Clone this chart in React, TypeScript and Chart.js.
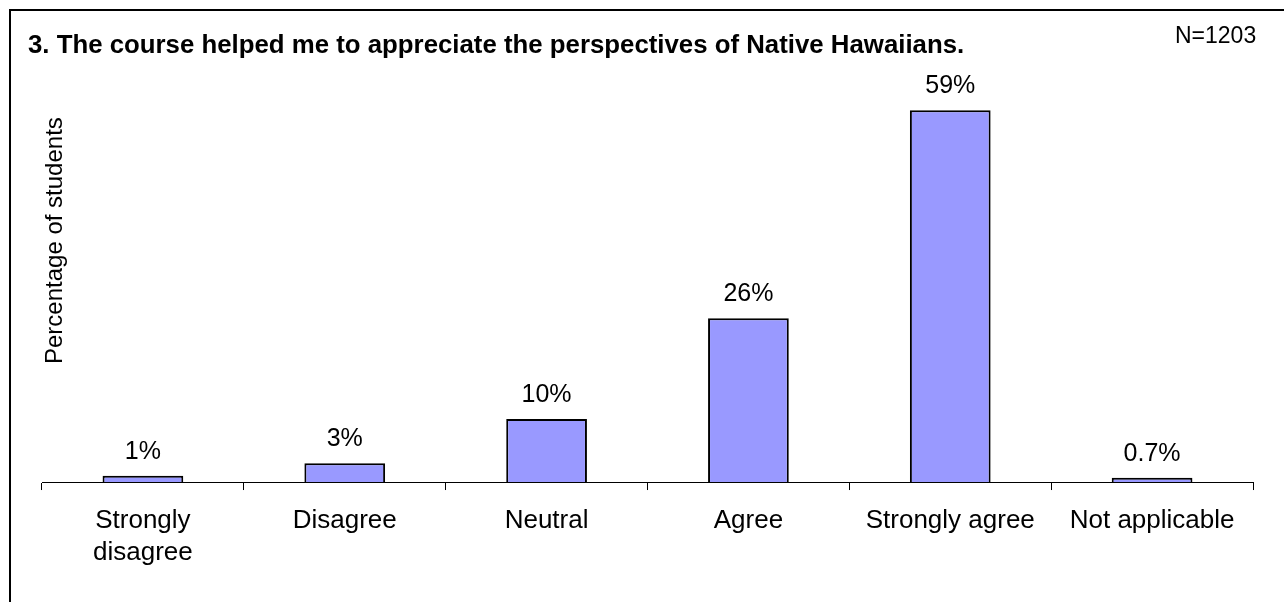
import React, { useEffect, useRef } from "react";
import { Chart, registerables } from "chart.js";

Chart.register(...registerables);

const categories: (string | string[])[] = [
  ["Strongly", "disagree"],
  "Disagree",
  "Neutral",
  "Agree",
  "Strongly agree",
  "Not applicable",
];
const percentValues: number[] = [1, 3, 10, 26, 59, 0.7];
const chartTitle = "3. The course helped me to appreciate the perspectives of Native Hawaiians.";
const sampleNote = "N=1203";
const yAxisTitle = "Percentage of students";

const FONT = "'Liberation Sans', Arial, Helvetica, sans-serif";

const decorPlugin = {
  id: "decor",
  afterDraw(chart: any) {
    const ctx = chart.ctx as CanvasRenderingContext2D;
    ctx.save();
    // frame
    ctx.strokeStyle = "#000";
    ctx.lineWidth = 2;
    ctx.strokeRect(10, 10, chart.width + 20, chart.height + 20);
    // title
    ctx.fillStyle = "#000";
    ctx.font = `bold 25.8px ${FONT}`;
    ctx.textAlign = "left";
    ctx.textBaseline = "alphabetic";
    ctx.fillText(chartTitle, 28, 53);
    // N note
    ctx.font = `23px ${FONT}`;
    ctx.fillText(sampleNote, 1175, 43);
    // y title
    ctx.save();
    ctx.translate(62, 364);
    ctx.rotate(-Math.PI / 2);
    ctx.textAlign = "left";
    ctx.textBaseline = "alphabetic";
    ctx.font = `24px ${FONT}`;
    ctx.fillText(yAxisTitle, 0, 0);
    ctx.restore();
    // data labels
    const meta = chart.getDatasetMeta(0);
    ctx.font = `25px ${FONT}`;
    ctx.textAlign = "center";
    ctx.textBaseline = "alphabetic";
    meta.data.forEach((el: any, i: number) => {
      ctx.fillText(`${percentValues[i]}%`, el.x, el.y - 17);
    });
    ctx.restore();
  },
};

export default function App() {
  const ref = useRef<HTMLCanvasElement | null>(null);
  useEffect(() => {
    if (!ref.current) return;
    const chart = new Chart(ref.current, {
      type: "bar",
      data: {
        labels: categories,
        datasets: [
          {
            data: percentValues,
            backgroundColor: "#9999FF",
            borderColor: "#000000",
            borderWidth: 2,
            categoryPercentage: 1,
            barPercentage: 0.4,
          },
        ],
      },
      options: {
        animation: false,
        responsive: false,
        maintainAspectRatio: false,
        layout: { padding: { left: 42, right: 31, top: 41, bottom: 18 } },
        plugins: {
          legend: { display: false },
          tooltip: { enabled: false },
          title: { display: false },
        },
        scales: {
          x: {
            type: "category",
            offset: true,
            grid: {
              display: true,
              offset: true,
              drawOnChartArea: false,
              drawTicks: true,
              tickLength: 8,
              color: "#000",
              lineWidth: 1,
            },
            border: { display: true, color: "#000", width: 1 },
            ticks: {
              color: "#000",
              font: { family: FONT, size: 26, lineHeight: 1.23 },
              padding: 15,
              maxRotation: 0,
              minRotation: 0,
              autoSkip: false,
            },
          },
          y: { display: false, min: 0, max: 70 },
        },
      },
      plugins: [decorPlugin],
    });
    return () => chart.destroy();
  }, []);
  return (
    <div style={{ position: "fixed", left: 0, top: 0, width: 1284, height: 602, background: "#fff" }}>
      <canvas ref={ref} width={1284} height={602} style={{ display: "block" }} />
    </div>
  );
}
